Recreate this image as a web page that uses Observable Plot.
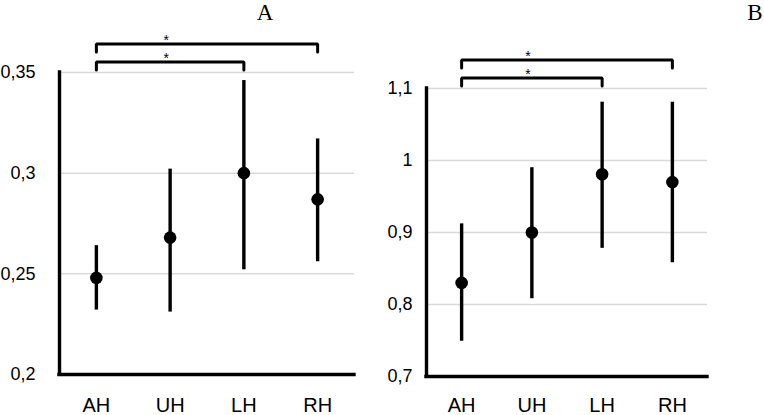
<!DOCTYPE html>
<html><head><meta charset="utf-8">
<script src="https://cdn.jsdelivr.net/npm/d3@7"></script>
<script src="https://cdn.jsdelivr.net/npm/@observablehq/plot@0.6"></script>
<style>
body{margin:0;background:#fff;}
#wrap{position:relative;width:764px;height:415px;overflow:hidden;background:#fff}
.panel{position:absolute;top:0}
.title{position:absolute;font-family:"Liberation Serif","Times New Roman",serif;font-size:23px;line-height:26px;text-align:center;width:40px;color:#000}
</style></head><body>
<div id="wrap"></div>
<script>
// ---- data ----
const categories = ["AH", "UH", "LH", "RH"];
const meanA = [0.248, 0.268, 0.300, 0.287];
const lowA  = [0.232, 0.231, 0.252, 0.256];
const highA = [0.264, 0.302, 0.346, 0.317];
const meanB = [0.830, 0.900, 0.981, 0.970];
const lowB  = [0.749, 0.808, 0.878, 0.858];
const highB = [0.912, 0.990, 1.081, 1.081];
const ticksA = [0.2, 0.25, 0.3, 0.35];
const ticksB = [0.7, 0.8, 0.9, 1, 1.1];
const comparisons = [
  {from: "AH", to: "LH", label: "*"},
  {from: "AH", to: "RH", label: "*"}
];
const panelTitles = ["A", "B"];

const fmt = d => String(d).replace(".", ",");
const wrap = document.getElementById("wrap");

function makePanel(cfg) {
  const {means, lows, highs, ticks, width, height, ml, mr, mt, mb, yPad, xPad} = cfg;
  const d0 = ticks[0], d1 = ticks[ticks.length - 1];
  const unit = (d1 - d0) / (height - mt - mb); // data units per pixel
  const rows = categories.map((c, i) => ({i, c, mean: means[i], lo: lows[i], hi: highs[i]}));
  const idx = c => categories.indexOf(c);
  const levels = [{top: 10.5, leg: 8}, {top: 28.5, leg: 8}];
  const bracketPts = [];
  const stars = [];
  const starX = (idx(comparisons[0].from) + idx(comparisons[0].to)) / 2;
  comparisons.forEach((cmp, k) => {
    const yTop = d1 + levels[k].top * unit;
    const yEnd = d1 + (levels[k].top - levels[k].leg) * unit;
    const a = idx(cmp.from), b = idx(cmp.to);
    bracketPts.push({id: k, x: a, y: yEnd}, {id: k, x: a, y: yTop}, {id: k, x: b, y: yTop}, {id: k, x: b, y: yEnd});
    stars.push({x: starX, y: yTop, label: cmp.label});
  });
  return Plot.plot({
    width, height,
    marginLeft: ml, marginRight: mr, marginTop: mt, marginBottom: mb,
    style: {fontFamily: "'Liberation Sans', Arial, Helvetica, sans-serif", color: "#000", background: "transparent", overflow: "visible"},
    x: {domain: [-0.5, categories.length - 0.5], axis: null},
    y: {domain: [d0, d1], axis: null},
    marks: [
      Plot.gridY({ticks, stroke: "#d9d9d9", strokeOpacity: 1, strokeWidth: 1.5}),
      Plot.axisY({ticks, tickFormat: fmt, tickSize: 0, tickPadding: yPad, fontSize: 18, label: null}),
      Plot.axisX({ticks: categories.map((_, i) => i), tickFormat: i => categories[i], tickSize: 0, tickPadding: xPad, fontSize: 20, label: null}),
      Plot.ruleX([-0.5], {stroke: "#000", strokeWidth: 3.4, strokeLinecap: "square"}),
      Plot.ruleY([d0], {stroke: "#000", strokeWidth: 3.4, strokeLinecap: "square"}),
      Plot.ruleX(rows, {x: "i", y1: "lo", y2: "hi", stroke: "#000", strokeWidth: 3.4}),
      Plot.dot(rows, {x: "i", y: "mean", r: 6.3, fill: "#000", stroke: null}),
      Plot.line(bracketPts, {x: "x", y: "y", z: "id", stroke: "#000", strokeWidth: 3, strokeLinejoin: "miter", curve: "linear"}),
      Plot.text(stars, {x: "x", y: "y", text: "label", fontSize: 14, dy: -3, dx: -4, fill: "#000"})
    ]
  });
}

const svgA = makePanel({means: meanA, lows: lowA, highs: highA, ticks: ticksA, width: 380, height: 415, ml: 59, mr: 26, mt: 72, mb: 41, yPad: 24, xPad: 23});
const svgB = makePanel({means: meanB, lows: lowB, highs: highB, ticks: ticksB, width: 384, height: 415, ml: 46, mr: 57, mt: 88, mb: 39, yPad: 14, xPad: 21.5});

[[svgA, 0], [svgB, 380]].forEach(([svg, left]) => {
  const d = document.createElement("div");
  d.className = "panel";
  d.style.left = left + "px";
  d.appendChild(svg);
  wrap.appendChild(d);
});

[[panelTitles[0], 245], [panelTitles[1], 735]].forEach(([t, left]) => {
  const d = document.createElement("div");
  d.className = "title";
  d.style.left = left + "px";
  d.style.top = "0px";
  d.textContent = t;
  wrap.appendChild(d);
});
</script>
</body></html>
